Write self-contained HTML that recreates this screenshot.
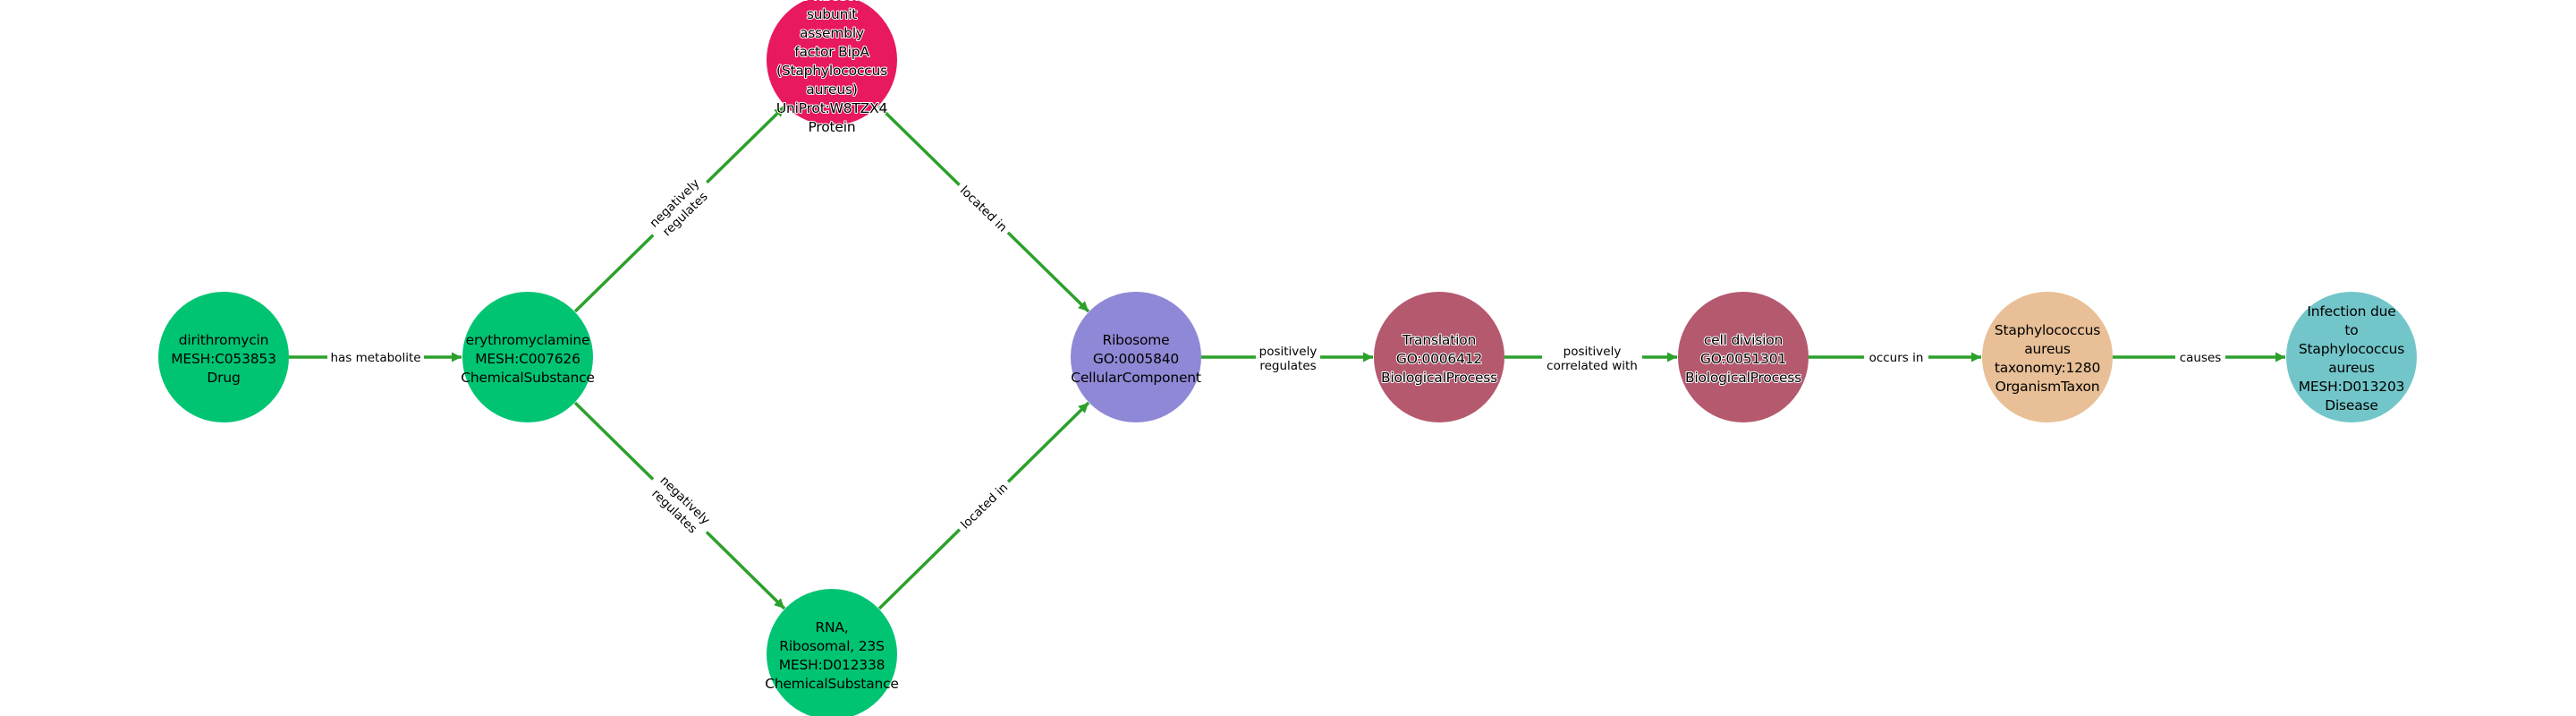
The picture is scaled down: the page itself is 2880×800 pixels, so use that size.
<!DOCTYPE html>
<html><head><meta charset="utf-8"><style>
html,body{margin:0;padding:0;background:#fff;}
svg{display:block;}
.n{font-family:"DejaVu Sans","Liberation Sans",sans-serif;font-size:15.5px;text-anchor:middle;fill:#000;letter-spacing:-0.2px;}
.o{stroke:#fff;stroke-width:2px;paint-order:stroke;stroke-linejoin:round;}
.e{font-family:"DejaVu Sans","Liberation Sans",sans-serif;font-size:13.5px;text-anchor:middle;fill:#000;}
.l{stroke:#2ca02c;stroke-width:3.5;fill:none;}
</style></head><body>
<svg width="2880" height="800" viewBox="0 0 2880 800" xmlns="http://www.w3.org/2000/svg">
<defs><marker id="a" viewBox="0 0 10 10" refX="10" refY="5" markerWidth="3.2" markerHeight="3.2" orient="auto" markerUnits="strokeWidth"><path d="M0,0 L10,5 L0,10 z" fill="#2ca02c"/></marker></defs>
<line class="l" x1="323" y1="399" x2="516" y2="399" marker-end="url(#a)"/>
<line class="l" x1="643" y1="348" x2="877" y2="119" marker-end="url(#a)"/>
<line class="l" x1="643" y1="450" x2="877" y2="680" marker-end="url(#a)"/>
<line class="l" x1="983" y1="119" x2="1217" y2="348" marker-end="url(#a)"/>
<line class="l" x1="983" y1="680" x2="1217" y2="450" marker-end="url(#a)"/>
<line class="l" x1="1343" y1="399" x2="1535" y2="399" marker-end="url(#a)"/>
<line class="l" x1="1682" y1="399" x2="1875" y2="399" marker-end="url(#a)"/>
<line class="l" x1="2022" y1="399" x2="2215" y2="399" marker-end="url(#a)"/>
<line class="l" x1="2362" y1="399" x2="2555" y2="399" marker-end="url(#a)"/>
<rect x="366" y="389" width="108" height="20" fill="#fff"/>
<text class="e" x="420" y="404">has metabolite</text>
<g transform="translate(760,233) rotate(-44)"><rect x="-42" y="-20" width="84" height="38" fill="#fff"/><text class="e" y="-4">negatively</text><text class="e" y="13">regulates</text></g>
<g transform="translate(760,565) rotate(44)"><rect x="-42" y="-20" width="84" height="38" fill="#fff"/><text class="e" y="-4">negatively</text><text class="e" y="13">regulates</text></g>
<g transform="translate(1100,233) rotate(44)"><rect x="-38" y="-10" width="76" height="20" fill="#fff"/><text class="e" y="5">located in</text></g>
<g transform="translate(1100,565) rotate(-44)"><rect x="-38" y="-10" width="76" height="20" fill="#fff"/><text class="e" y="5">located in</text></g>
<rect x="1404" y="380" width="72" height="38" fill="#fff"/>
<text class="e" x="1440" y="397">positively</text><text class="e" x="1440" y="413">regulates</text>
<rect x="1724" y="380" width="112" height="38" fill="#fff"/>
<text class="e" x="1780" y="397">positively</text><text class="e" x="1780" y="413">correlated with</text>
<rect x="2084" y="389" width="72" height="20" fill="#fff"/>
<text class="e" x="2120" y="404">occurs in</text>
<rect x="2432" y="389" width="56" height="20" fill="#fff"/>
<text class="e" x="2460" y="404">causes</text>
<circle cx="250" cy="399" r="73" fill="#00c472"/>
<text class="n" x="250" y="385">dirithromycin</text><text class="n" x="250" y="406">MESH:C053853</text><text class="n" x="250" y="427">Drug</text>
<circle cx="590" cy="399" r="73" fill="#00c472"/>
<text class="n" x="590" y="385">erythromyclamine</text><text class="n" x="590" y="406">MESH:C007626</text><text class="n" x="590" y="427">ChemicalSubstance</text>
<circle cx="930" cy="67" r="73" fill="#e8195e"/>
<g class="n o"><text x="930" y="0">30S ribosomal</text><text x="930" y="21">subunit</text><text x="930" y="42">assembly</text><text x="930" y="63">factor BipA</text><text x="930" y="84">(Staphylococcus</text><text x="930" y="105">aureus)</text><text x="930" y="126">UniProt:W8TZX4</text><text x="930" y="147">Protein</text></g>
<circle cx="930" cy="731" r="73" fill="#00c472"/>
<text class="n" x="930" y="706">RNA,</text><text class="n" x="930" y="727">Ribosomal, 23S</text><text class="n" x="930" y="748">MESH:D012338</text><text class="n" x="930" y="769">ChemicalSubstance</text>
<circle cx="1270" cy="399" r="73" fill="#8f88d6"/>
<text class="n" x="1270" y="385">Ribosome</text><text class="n" x="1270" y="406">GO:0005840</text><text class="n" x="1270" y="427">CellularComponent</text>
<circle cx="1609" cy="399" r="73" fill="#b5596e"/>
<g class="n o"><text x="1609" y="385">Translation</text><text x="1609" y="406">GO:0006412</text><text x="1609" y="427">BiologicalProcess</text></g>
<circle cx="1949" cy="399" r="73" fill="#b5596e"/>
<g class="n o"><text x="1949" y="385">cell division</text><text x="1949" y="406">GO:0051301</text><text x="1949" y="427">BiologicalProcess</text></g>
<circle cx="2289" cy="399" r="73" fill="#e8bf96"/>
<text class="n" x="2289" y="374">Staphylococcus</text><text class="n" x="2289" y="395">aureus</text><text class="n" x="2289" y="416">taxonomy:1280</text><text class="n" x="2289" y="437">OrganismTaxon</text>
<circle cx="2629" cy="399" r="73" fill="#72c6c9"/>
<text class="n" x="2629" y="353">Infection due</text><text class="n" x="2629" y="374">to</text><text class="n" x="2629" y="395">Staphylococcus</text><text class="n" x="2629" y="416">aureus</text><text class="n" x="2629" y="437">MESH:D013203</text><text class="n" x="2629" y="458">Disease</text>
</svg>
</body></html>
